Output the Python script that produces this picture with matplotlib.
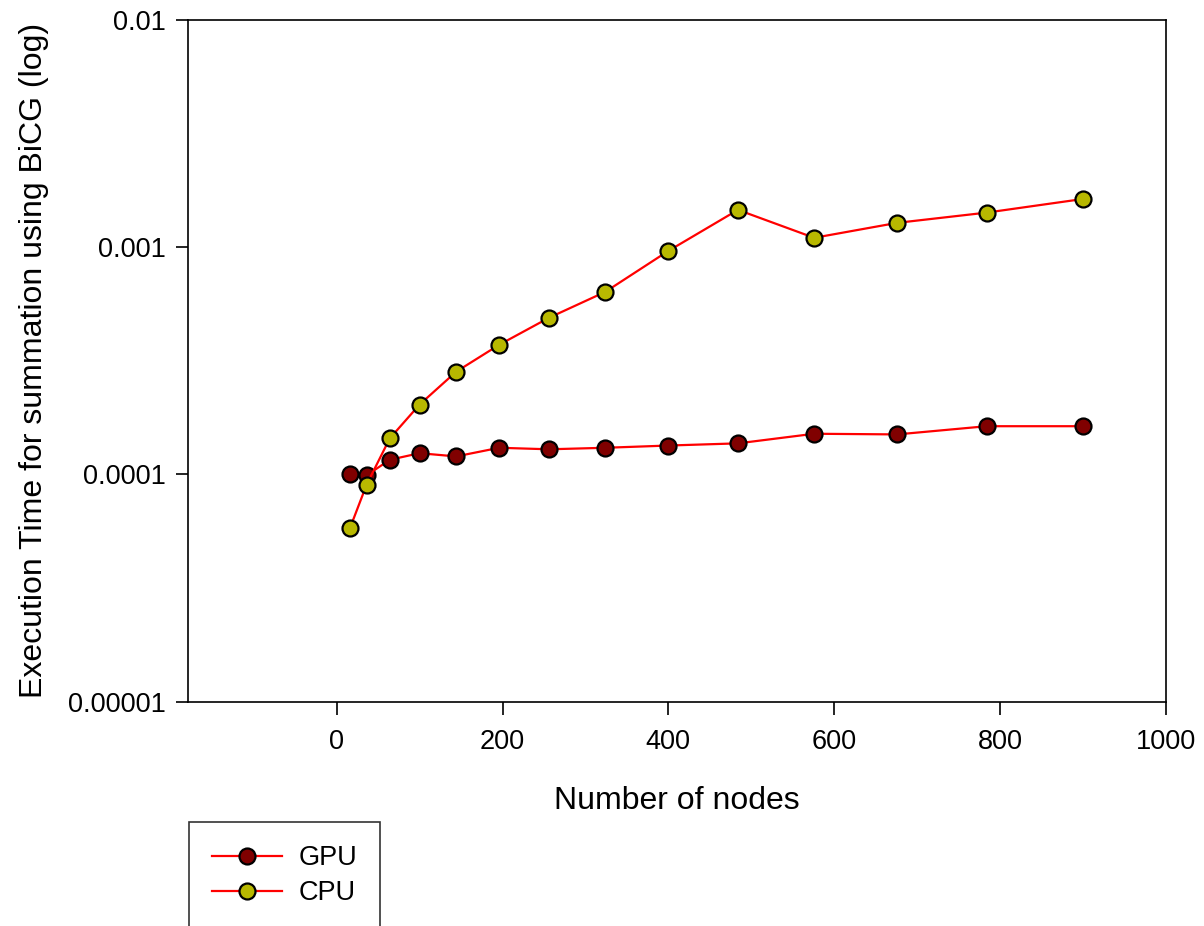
import matplotlib
matplotlib.use("Agg")
import matplotlib.pyplot as plt

plt.rcParams['font.family'] = ['Liberation Sans', 'DejaVu Sans']

# number of nodes (perfect squares)
nodes = [16, 36, 64, 100, 144, 196, 256, 324, 400, 484, 576, 676, 784, 900]

# execution times (s)
gpu_time = [1.00e-4, 0.99e-4, 1.16e-4, 1.24e-4, 1.20e-4, 1.31e-4, 1.29e-4,
            1.31e-4, 1.34e-4, 1.37e-4, 1.51e-4, 1.50e-4, 1.63e-4, 1.63e-4]
cpu_time = [5.8e-5, 9.0e-5, 1.44e-4, 2.03e-4, 2.83e-4, 3.72e-4, 4.89e-4,
            6.36e-4, 9.63e-4, 1.46e-3, 1.10e-3, 1.28e-3, 1.42e-3, 1.63e-3]

fig = plt.figure(figsize=(12.04, 9.26), dpi=100)
ax = fig.add_axes([0.1564, 0.2423, 0.8118, 0.7361])

ax.plot(nodes, gpu_time, color='red', lw=1.6, marker='o', ms=11.5,
        mfc='#800000', mec='black', mew=1.6, label='GPU', zorder=3)
ax.plot(nodes, cpu_time, color='red', lw=1.6, marker='o', ms=11.5,
        mfc='#b8b800', mec='black', mew=1.6, label='CPU', zorder=3)

ax.set_yscale('log')
ax.set_ylim(1e-5, 1e-2)
ax.set_xlim(-179, 1000)
ax.set_xticks([0, 200, 400, 600, 800, 1000])
ax.set_yticks([1e-5, 1e-4, 1e-3, 1e-2])
ax.set_yticklabels(['0.00001', '0.0001', '0.001', '0.01'])
ax.minorticks_off()
ax.tick_params(axis='both', labelsize=19.5, direction='out', length=9, width=1.2, pad=7)
ax.tick_params(axis='x', pad=11)

ax.set_xlabel('Number of nodes', fontsize=23, labelpad=22)
ax.set_ylabel('Execution Time for summation using BiCG (log)', fontsize=23, labelpad=14)

for sp in ax.spines.values():
    sp.set_linewidth(1.2)

leg = ax.legend(loc='upper left', bbox_to_anchor=(189 / 1204, 1 - 822 / 926),
                bbox_transform=fig.transFigure,
                fontsize=19.5, frameon=True, fancybox=False, edgecolor='black',
                borderpad=0.85, handlelength=2.6, handletextpad=0.6,
                labelspacing=0.35, borderaxespad=0)
leg.get_frame().set_linewidth(1.2)

fig.savefig('out.png', dpi=100)
